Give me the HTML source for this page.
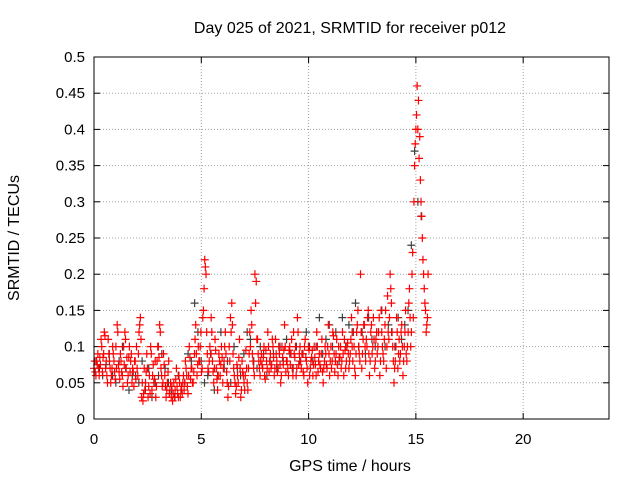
<!DOCTYPE html>
<html><head><meta charset="utf-8"><style>
html,body{margin:0;padding:0;background:#fff;}
svg{display:block;font-family:"Liberation Sans",sans-serif;}
</style></head><body>
<svg id="c" width="640" height="480"></svg>
<script>
const xTicks=[0,5,10,15,20];
const yTicks=[0,0.05,0.1,0.15,0.2,0.25,0.3,0.35,0.4,0.45,0.5];
const yTickLabels=["0","0.05","0.1","0.15","0.2","0.25","0.3","0.35","0.4","0.45","0.5"];
const redStart=0.0, redStep=0.06;
const redValues=[
.07,.065,.08,.09,.06,.075,.1,.085,.12,.07,
.06,.11,.08,.05,.07,.09,.065,.1,.13,.075,
.055,.08,.06,.1,.12,.07,.05,.085,.065,.09,
.07,.045,.08,.1,.06,.12,.14,.03,.025,.07,
.05,.09,.03,.06,.1,.04,.075,.055,.03,.08,
.1,.13,.07,.045,.09,.06,.03,.05,.08,.04,
.03,.025,.05,.04,.07,.035,.06,.03,.045,.05,
.04,.08,.06,.035,.1,.055,.07,.05,.09,.13,
.06,.1,.08,.12,.07,.15,.22,.2,.09,.065,
.1,.14,.08,.05,.11,.07,.04,.09,.06,.1,
.05,.08,.12,.065,.03,.1,.14,.16,.09,.06,
.035,.075,.05,.11,.03,.08,.06,.04,.095,.05,
.07,.12,.15,.09,.07,.2,.19,.11,.08,.06,
.09,.07,.1,.055,.08,.12,.065,.09,.075,.1,
.06,.11,.08,.07,.09,.05,.1,.075,.13,.065,
.08,.06,.1,.09,.07,.12,.085,.06,.14,.075,
.1,.07,.09,.06,.11,.08,.05,.095,.07,.085,
.06,.1,.075,.12,.065,.09,.07,.11,.05,.08,
.09,.07,.13,.06,.1,.08,.115,.065,.09,.075,
.1,.085,.07,.12,.06,.095,.08,.105,.07,.09,
.14,.08,.1,.06,.12,.15,.09,.2,.07,.11,
.13,.08,.1,.15,.06,.12,.09,.14,.07,.11,
.09,.12,.06,.15,.1,.08,.13,.07,.17,.11,
.2,.16,.1,.05,.08,.14,.07,.11,.09,.13,
.06,.1,.15,.08,.12,.18,.1,.2,.14,.35,
.4,.46,.44,.39,.3,.25,.2,.16,.12,.14
];
const red2Start=0.03, red2Step=0.06;
const red2Values=[
.08,.06,.075,.07,.085,.11,.065,.09,.115,.08,
.05,.09,.07,.06,.1,.08,.055,.07,.12,.065,
.09,.065,.045,.075,.11,.085,.06,.1,.08,.05,
.065,.08,.055,.07,.09,.13,.11,.05,.035,.04,
.065,.07,.045,.035,.09,.06,.05,.08,.045,.1,
.085,.12,.06,.05,.075,.045,.04,.065,.035,.05,
.045,.035,.03,.055,.045,.03,.05,.04,.035,.06,
.05,.07,.045,.06,.085,.07,.05,.065,.11,.09,
.075,.08,.1,.065,.14,.18,.21,.12,.07,.08,
.09,.12,.065,.07,.095,.055,.06,.08,.075,.085,
.07,.1,.09,.05,.045,.08,.12,.13,.07,.05,
.045,.06,.085,.07,.04,.065,.05,.06,.07,.04,
.09,.1,.13,.08,.06,.16,.11,.09,.07,.08,
.075,.085,.06,.095,.07,.1,.08,.07,.11,.085,
.07,.09,.065,.1,.075,.06,.085,.095,.1,.08,
.07,.095,.075,.11,.06,.09,.1,.07,.12,.09,
.08,.09,.065,.1,.085,.07,.1,.06,.08,.095,
.075,.085,.06,.1,.08,.075,.09,.065,.07,.1,
.075,.1,.09,.08,.07,.12,.09,.08,.11,.06,
.085,.1,.08,.09,.11,.07,.1,.09,.08,.11,
.1,.12,.07,.09,.13,.1,.08,.12,.09,.13,
.1,.11,.14,.09,.08,.13,.1,.11,.08,.12,
.1,.14,.08,.12,.09,.11,.15,.1,.12,.14,
.18,.12,.08,.07,.1,.12,.09,.08,.12,.1,
.08,.12,.09,.1,.16,.14,.12,.23,.3,.38,
.42,.4,.36,.33,.28,.22,.18,.15,.13,.2
];
const grayStart=0.1, grayStep=0.153;
const grayValues=[
.08,.07,.06,.075,.09,.06,.05,.08,.1,.07,
.04,.06,.06,.05,.08,.04,.07,.03,.05,.06,
.09,.07,.05,.04,.03,.06,.04,.05,.09,.08,
.16,.12,.08,.05,.06,.09,.04,.06,.12,.07,
.08,.05,.1,.07,.06,.09,.12,.11,.08,.07,
.1,.09,.06,.08,.09,.07,.1,.08,.11,.09,
.07,.1,.08,.09,.12,.1,.08,.1,.14,.09,
.11,.13,.1,.12,.08,.14,.1,.13,.12,.16,
.1,.12,.09,.14,.11,.1,.12,.15,.1,.13,
.12,.1,.14,.11,.13,.15,.24,.37,.3,.28
];
const L=94,R=609,T=57,B=419,XMAX=24,YMAX=0.5;
const X=v=>L+v/XMAX*(R-L);
const Y=v=>B-v/YMAX*(B-T);
const svg=document.getElementById('c');
const NS='http://www.w3.org/2000/svg';
function mk(tag,attrs,parent){const e=document.createElementNS(NS,tag);for(const k in attrs)e.setAttribute(k,attrs[k]);(parent||svg).appendChild(e);return e;}
const grid=mk('g',{});


yTicks.forEach((v,i)=>{
  if(i>0&&i<yTicks.length-1) mk('line',{x1:L,x2:R,y1:Y(v),y2:Y(v),stroke:'#a0a0a0','stroke-dasharray':'1,2','stroke-width':1},grid);
  mk('line',{x1:L,x2:L+6,y1:Y(v),y2:Y(v),stroke:'#000'},grid);
  mk('line',{x1:R,x2:R-6,y1:Y(v),y2:Y(v),stroke:'#000'},grid);
  const t=mk('text',{x:L-9,y:Y(v)+5,'text-anchor':'end','font-size':15,fill:'#000'});
  
  
  t.textContent=yTickLabels[i];
});
xTicks.forEach(v=>{
  if(v>0) mk('line',{x1:X(v),x2:X(v),y1:T,y2:B,stroke:'#a0a0a0','stroke-dasharray':'1,2','stroke-width':1},grid);
  mk('line',{x1:X(v),x2:X(v),y1:B,y2:B-6,stroke:'#000'},grid);
  mk('line',{x1:X(v),x2:X(v),y1:T,y2:T+6,stroke:'#000'},grid);
  const t=mk('text',{x:X(v),y:B+25,'text-anchor':'middle','font-size':15,fill:'#000'});
  
  
  t.textContent=String(v);
});
function plus(x,y,c,g){mk('path',{d:`M${x-4} ${y}H${x+4}M${x} ${y-4}V${y+4}`,stroke:c,'stroke-width':1.2,fill:'none'},g);}
const gG=mk('g',{});


grayValues.forEach((v,i)=>plus(X(grayStart+i*grayStep),Y(v),'#404040',gG));
const rG=mk('g',{});


redValues.forEach((v,i)=>plus(X(redStart+i*redStep),Y(v),'#ff0000',rG));
red2Values.forEach((v,i)=>plus(X(red2Start+i*red2Step),Y(v),'#ff0000',rG));
const frame=mk('rect',{x:L,y:T,width:R-L,height:B-T,fill:'none',stroke:'#000','stroke-width':1});


const title=mk('text',{x:350,y:33,'text-anchor':'middle','font-size':16,fill:'#000'});


title.textContent='Day 025 of 2021, SRMTID for receiver p012';
const xt=mk('text',{x:350,y:471,'text-anchor':'middle','font-size':16,fill:'#000'});


xt.textContent='GPS time / hours';
const yt=mk('text',{x:0,y:0,'text-anchor':'middle','font-size':16,fill:'#000',transform:'translate(19,238) rotate(-90)'});


yt.textContent='SRMTID / TECUs';
</script>
</body></html>
